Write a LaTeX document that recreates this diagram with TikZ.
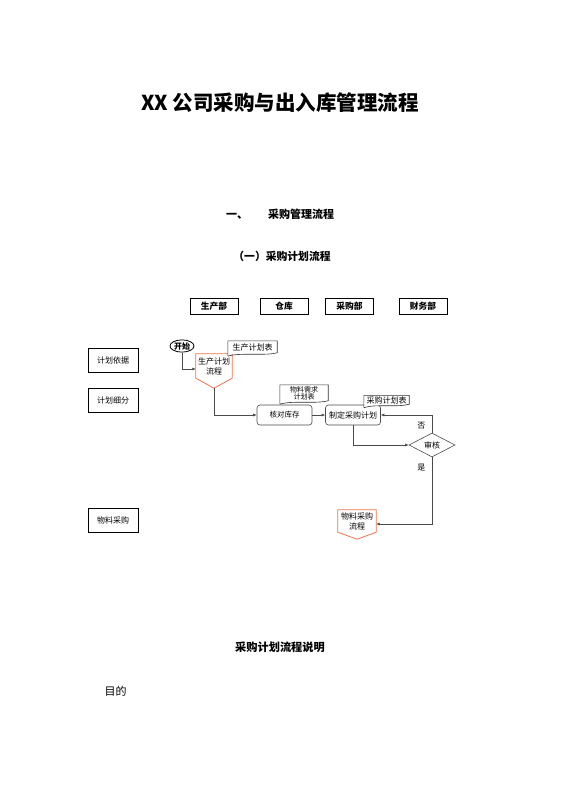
\documentclass[tikz,border=0pt]{standalone}
\usepackage{fontspec}
\setmainfont{Noto Sans CJK SC}
\usetikzlibrary{shapes.geometric,arrows.meta}
\definecolor{offorange}{RGB}{236,118,80}
\definecolor{linegray}{RGB}{75,75,75}
\tikzset{
  dept/.style={draw, line width=0.9pt, minimum width=48pt, minimum height=16pt, inner sep=0pt, font=\fontsize{8.7}{10}\selectfont\bfseries},
  side/.style={draw, line width=0.9pt, minimum width=50pt, minimum height=24pt, inner sep=0pt, font=\fontsize{8}{10}\selectfont},
  proc/.style={draw=linegray, line width=0.6pt, rounded corners=3pt, minimum width=55pt, minimum height=20pt, inner sep=0pt, font=\fontsize{8}{10}\selectfont},
  docu/.style={fill=white, inner sep=0.5pt, font=\fontsize{8}{9}\selectfont},
  offpg/.style={inner sep=0pt, align=center, font=\fontsize{8}{10}\selectfont},
  flow/.style={draw=linegray, line width=0.6pt, -{Latex[length=3.5pt,width=3pt]}},
  lbl/.style={font=\fontsize{8}{10}\selectfont}
}
\begin{document}
\begin{tikzpicture}[x=1pt, y=-1pt]
            \fill[white] (0,0) rectangle (560,792);
            \useasboundingbox (0,0) rectangle (560,792);
            % Headings
            \node (title) at (280,103) {\fontsize{20.5}{24}\selectfont\bfseries XX 公司采购与出入库管理流程};
            \node (sec) at (280,214) {\fontsize{11}{13}\selectfont\bfseries 一、\hspace{20pt}采购管理流程};
            \node (sub) at (282,256) {\fontsize{10.8}{13}\selectfont\bfseries （一）采购计划流程};
            % Departments
            \node[dept] (prod) at (214,306) {生产部};
            \node[dept] (store) at (284,306) {仓库};
            \node[dept] (buy) at (349.5,306) {采购部};
            \node[dept] (fin) at (423,306) {财务部};
            % Stages
            \node[side] (basis) at (113,360) {计划依据};
            \node[side] (split) at (113,400) {计划细分};
            \node[side] (mat) at (113,520) {物料采购};
            % Flow
            \node[draw, ellipse, line width=0.8pt, inner sep=0.5pt, font=\fontsize{8}{10}\selectfont\bfseries] (start) at (182,346) {开始};
            \node[offpg, minimum width=36pt, minimum height=24pt] (pa) at (214,366) {生产计划\\流程};
            \node[offpg, minimum width=38pt, minimum height=22pt] (pb) at (357,521) {物料采购\\流程};
            \foreach \n/\t in {pa/10pt, pb/7pt} {
                    \draw[offorange, line width=0.8pt] (\n.north west) -- (\n.north east) -- (\n.south east) -- ([yshift=-\t]\n.south) -- (\n.south west) -- cycle;
                }
            \node[proc] (check) at (284.5,415) {\fontsize{7.5}{9}\selectfont 核对库存};
            \node[proc] (plan) at (353,415) {制定采购计划};
            \node[draw=linegray, line width=0.6pt, diamond, minimum width=46pt, minimum height=24pt, inner sep=0pt, font=\fontsize{8}{10}\selectfont] (audit) at (432,445) {审核};
            % Documents
            \node[docu, minimum width=49pt, minimum height=13pt] (d1) at (252.5,347.5) {生产计划表};
            \node[docu, minimum width=48pt, minimum height=17pt, align=center, font=\fontsize{7}{7.5}\selectfont] (d2) at (304,393.5) {物料需求\\计划表};
            \node[docu, minimum width=45pt, minimum height=10pt] (d3) at (386.5,400.5) {采购计划表};
            \foreach \n in {d1, d2, d3} {
                    \draw[black!80, line width=0.6pt] ([yshift=-2pt]\n.south west) -- (\n.north west) -- (\n.north east) -- ([yshift=1.5pt]\n.south east) .. controls ([xshift=-12pt,yshift=-2pt]\n.south east) and ([xshift=12pt,yshift=2pt]\n.south west) .. ([yshift=-2pt]\n.south west);
                }
            % Connectors
            \draw[flow] (start.south) |- ([yshift=-3pt]pa.west);
            \draw[flow] ([yshift=-10pt]pa.south) |- (check.west);
            \draw[flow] (check.east) -- (plan.west);
            \draw[flow] (plan.south) |- (audit.west);
            \draw[flow] (audit.north) |- (plan.east) node[lbl, pos=0.2, left=3pt] {否};
            \draw[flow] (audit.south) |- ([yshift=-3pt]pb.east) node[lbl, pos=0.08, left=3pt] {是};
            % Notes
            \node (expl) at (280,647) {\fontsize{11.2}{13}\selectfont\bfseries 采购计划流程说明};
            \node[anchor=west] (aim) at (101,691) {\fontsize{11}{13}\selectfont 目的};
\end{tikzpicture}
\end{document}
